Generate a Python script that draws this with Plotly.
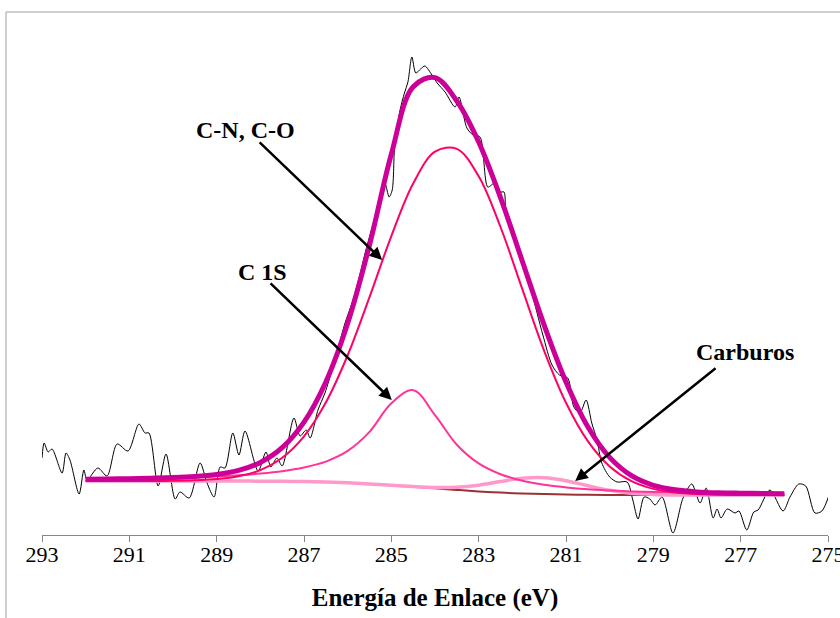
import plotly.graph_objects as go

# ---- measured C 1s spectrum (binding energy in eV, intensity in a.u.) ----
spec_energy = [
    293.00, 292.95, 292.86, 292.77, 292.54, 292.45, 292.36, 292.15, 292.04, 291.97,
    291.72, 291.51, 291.28, 291.03, 290.78, 290.64, 290.55, 290.34, 290.16, 289.95,
    289.84, 289.63, 289.38, 289.22, 289.06, 288.92, 288.81, 288.63, 288.49, 288.35,
    288.05, 287.87, 287.76, 287.62, 287.50, 287.23, 287.09, 286.95, 286.86, 286.68,
    286.52, 286.34, 286.20, 286.06, 285.90, 285.75, 285.60, 285.45, 285.30, 285.15,
    285.05, 284.98, 284.92, 284.80, 284.70, 284.62, 284.53, 284.44, 284.33, 284.23,
    284.07, 283.95, 283.77, 283.54, 283.45, 283.27, 283.13, 282.97, 282.79, 282.63,
    282.51, 282.42, 282.37, 282.12, 281.99, 281.80, 281.53, 281.32, 281.15, 280.96,
    280.82, 280.68, 280.54, 280.41, 280.29, 280.18, 280.00, 279.83, 279.60, 279.47,
    279.35, 279.21, 279.08, 278.96, 278.80, 278.55, 278.32, 278.12, 277.93, 277.79,
    277.63, 277.54, 277.45, 277.31, 277.13, 277.04, 276.86, 276.70, 276.60, 276.33,
    276.03, 275.87, 275.67, 275.51, 275.30, 275.14, 274.96,
]
spec_counts = [
    77, 92, 83, 86, 62, 82, 75, 41, 65, 55,
    67, 59, 91, 84, 111, 102, 102, 49, 81, 36,
    43, 37, 72, 52, 38, 68, 67, 102, 80, 104,
    64, 83, 68, 77, 69, 117, 99, 105, 97, 125,
    142, 168, 190, 212, 232, 255, 282, 306, 330, 352,
    338, 345, 392, 425, 442, 453, 478, 462, 466, 469,
    460, 452, 443, 428, 438, 407, 400, 398, 348, 352,
    343, 343, 318, 292, 272, 245, 200, 170, 160, 157,
    128, 122, 135, 112, 95, 72, 58, 53, 53, 35,
    16, 38, 36, 30, 38, 2, 37, 51, 32, 47,
    17, 26, 17, 26, 22, 24, 5, 23, 25, 45,
    24, 38, 51, 49, 22, 24, 42,
]

# ---- peak fit (values sampled every 0.5 eV) ----
fit_energy = [
    292.0, 291.5, 291.0, 290.5, 290.0, 289.5, 289.0, 288.5, 288.0, 287.5, 287.0,
    286.5, 286.0, 285.5, 285.0, 284.5, 284.0, 283.5, 283.0, 282.5, 282.0, 281.5,
    281.0, 280.5, 280.0, 279.5, 279.0, 278.5, 278.0, 277.5, 277.0, 276.5, 276.0,
]
background = [
    54.0, 54.0, 54.0, 54.0, 54.0, 54.0, 54.0, 53.9, 53.85, 53.7, 53.4,
    52.9, 52.15, 51.1, 49.8, 48.3, 46.7, 45.1, 43.6, 42.4, 41.5, 40.9,
    40.5, 40.2, 40.1, 40.0, 40.0, 40.0, 40.0, 40.0, 40.0, 40.0, 40.0,
]
peak_cn_co = [
    0.0, 0.0, 0.0, 0.1, 0.2, 0.7, 1.9, 4.8, 11.1, 23.5, 45.3,
    79.6, 127.6, 186.7, 249.1, 303.2, 336.6, 341.0, 315.2, 265.6, 204.3, 143.3,
    91.7, 53.6, 28.5, 13.9, 6.1, 2.5, 0.9, 0.3, 0.1, 0.0, 0.0,
]
peak_c1s = [
    1.7, 2.0, 2.3, 2.7, 3.2, 3.8, 4.7, 5.9, 7.6, 10.1, 14.1,
    20.5, 31.9, 52.0, 81.9, 96.5, 73.2, 45.2, 28.0, 18.4, 12.8, 9.3,
    7.1, 5.5, 4.4, 3.6, 3.0, 2.6, 2.2, 1.9, 1.7, 1.5, 1.3,
]
peak_carburos = [
    0.0, 0.0, 0.0, 0.0, 0.0, 0.0, 0.0, 0.0, 0.0, 0.0, 0.0,
    0.0, 0.0, 0.0, 0.0, 0.2, 0.9, 2.7, 6.2, 11.0, 15.2, 16.4,
    13.8, 9.0, 4.6, 1.8, 0.6, 0.1, 0.0, 0.0, 0.0, 0.0, 0.0,
]

tick_values = [293, 291, 289, 287, 285, 283, 281, 279, 277, 275]

# components are drawn on top of the background, the envelope is their sum
cn_line = [b + p for b, p in zip(background, peak_cn_co)]
c1s_line = [b + p for b, p in zip(background, peak_c1s)]
carb_line = [b + p for b, p in zip(background, peak_carburos)]
envelope = [b + a + c + d for b, a, c, d in
            zip(background, peak_cn_co, peak_c1s, peak_carburos)]

SERIF = "Liberation Serif"

fig = go.Figure()
fig.add_trace(go.Scatter(x=spec_energy, y=spec_counts, mode="lines",
                         line=dict(color="#000000", width=1, shape="spline", smoothing=0.8)))
fig.add_trace(go.Scatter(x=fit_energy, y=background, mode="lines",
                         line=dict(color="#993333", width=2, shape="spline")))
fig.add_trace(go.Scatter(x=fit_energy, y=carb_line, mode="lines",
                         line=dict(color="#FF99CC", width=3.5, shape="spline")))
fig.add_trace(go.Scatter(x=fit_energy, y=c1s_line, mode="lines",
                         line=dict(color="#FF3399", width=2, shape="spline")))
fig.add_trace(go.Scatter(x=fit_energy, y=cn_line, mode="lines",
                         line=dict(color="#FF0066", width=2, shape="spline")))
fig.add_trace(go.Scatter(x=fit_energy, y=envelope, mode="lines",
                         line=dict(color="#CC0099", width=5, shape="spline")))


def arrow(x_tip, y_tip, x_tail, y_tail):
    return dict(x=x_tip, y=y_tip, ax=x_tail, ay=y_tail, xref="x", yref="y",
                axref="x", ayref="y", text="", showarrow=True, arrowhead=2,
                arrowsize=1, arrowwidth=2.5, arrowcolor="#000000")


def label(x, y, text):
    return dict(x=x, y=y, xref="x", yref="y", text="<b>%s</b>" % text,
                showarrow=False, xanchor="center", yanchor="middle",
                font=dict(family=SERIF, size=24, color="#000000"))


fig.update_layout(
    width=840, height=618,
    margin=dict(l=42, r=12, t=55, b=83, autoexpand=False),
    paper_bgcolor="white", plot_bgcolor="white",
    showlegend=False,
    xaxis=dict(range=[293, 275], tickvals=tick_values,
               ticktext=[str(v) for v in tick_values],
               ticks="outside", ticklen=6, tickcolor="#868686",
               showline=True, linecolor="#868686", linewidth=1,
               showgrid=False, zeroline=False, automargin=False,
               ticklabeloverflow="allow", ticklabelstandoff=-6,
               tickfont=dict(family=SERIF, size=22, color="#000000"),
               title=dict(text="<b>Energía de Enlace (eV)</b>", standoff=22,
                          font=dict(family=SERIF, size=25, color="#000000"))),
    yaxis=dict(range=[0, 480], visible=False),
    annotations=[
        label(288.35, 405, "C-N, C-O"),
        arrow(285.21, 275, 288.05, 394),
        label(287.94, 263, "C 1S"),
        arrow(284.99, 135, 287.80, 253),
        label(276.90, 183, "Carburos"),
        arrow(280.79, 54, 277.54, 168),
    ],
    shapes=[dict(type="path", xref="paper", yref="paper",
                 path="M -0.0458,-0.2 L -0.0458,1.0896 L 1.03,1.0896",
                 line=dict(color="#A0A0A0", width=1))],
)

fig.write_html("out.html")
